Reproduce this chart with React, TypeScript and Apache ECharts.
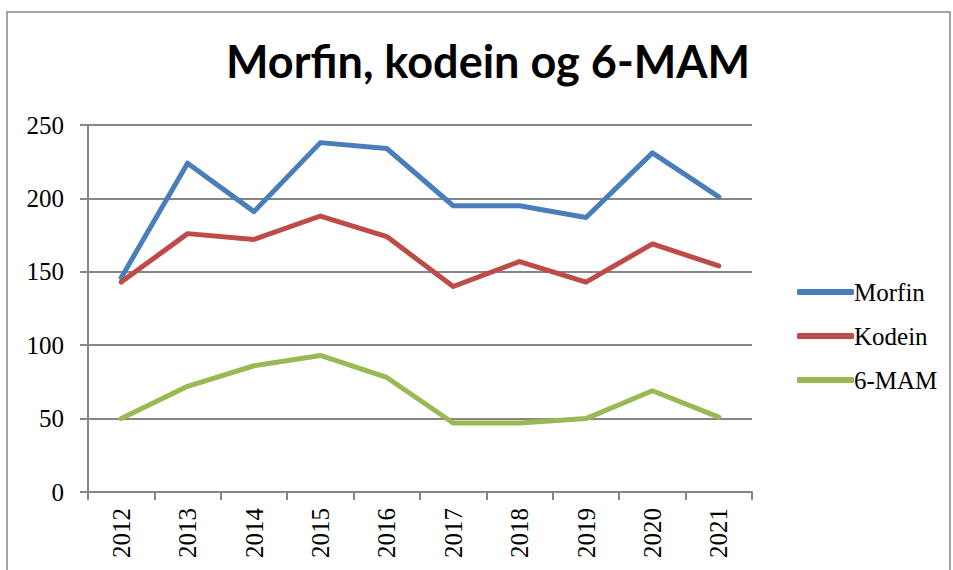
import React, { useEffect, useRef } from "react";
import * as echarts from "echarts";

const years = ["2012", "2013", "2014", "2015", "2016", "2017", "2018", "2019", "2020", "2021"];
const morfin = [146, 224, 191, 238, 234, 195, 195, 187, 231, 201];
const kodein = [143, 176, 172, 188, 174, 140, 157, 143, 169, 154];
const mam = [50, 72, 86, 93, 78, 47, 47, 50, 69, 51];
const yTicks = { min: 0, max: 250, interval: 50 };

export default function App() {
  const ref = useRef<HTMLDivElement>(null);
  useEffect(() => {
    if (!ref.current) return;
    const chart = echarts.init(ref.current, null, { renderer: "svg" });
    const gray = "#868686";
    const serif = "'Liberation Serif', 'Times New Roman', serif";
    const mk = (name: string, data: number[], color: string) => ({
      name,
      type: "line",
      data,
      symbol: "none",
      lineStyle: { color, width: 5, cap: "round", join: "round" },
      itemStyle: { color },
    });
    chart.setOption({
      animation: false,
      backgroundColor: "#ffffff",
      title: {
        text: "Morfin, kodein og 6-MAM",
        left: 483,
        textAlign: "center",
        top: 33,
        textStyle: { fontFamily: "Lato, 'Liberation Sans', sans-serif", fontWeight: "bold", fontSize: 45, color: "#000" },
      },
      graphic: [
        {
          type: "rect",
          shape: { x: 7, y: 12, width: 943, height: 580 },
          style: { fill: "none", stroke: gray, lineWidth: 1.5 },
          silent: true,
        },
      ],
      legend: {
        orient: "vertical",
        left: 792,
        top: 273,
        icon: "roundRect",
        itemWidth: 57,
        itemHeight: 6,
        itemGap: 16,
        textStyle: { fontFamily: serif, fontSize: 25, color: "#000", padding: [0, 0, 0, -5], lineHeight: 28 },
        data: ["Morfin", "Kodein", "6-MAM"],
      },
      grid: { left: 88, right: 201, top: 125, bottom: 78, containLabel: false },
      xAxis: {
        type: "category",
        data: years,
        boundaryGap: true,
        axisLine: { lineStyle: { color: gray, width: 2 } },
        axisTick: { show: true, length: 8, lineStyle: { color: gray, width: 2 }, alignWithLabel: false },
        axisLabel: { rotate: 90, fontFamily: serif, fontSize: 25, color: "#000", margin: 16 },
        splitLine: { show: false },
      },
      yAxis: {
        type: "value",
        min: yTicks.min,
        max: yTicks.max,
        interval: yTicks.interval,
        axisLine: { show: true, lineStyle: { color: gray, width: 2 } },
        axisTick: { show: true, length: 8, lineStyle: { color: gray, width: 2 } },
        axisLabel: { fontFamily: serif, fontSize: 25, color: "#000", margin: 24 },
        splitLine: { show: true, lineStyle: { color: gray, width: 2 } },
      },
      series: [mk("Morfin", morfin, "#4A7EBB"), mk("Kodein", kodein, "#BE4B48"), mk("6-MAM", mam, "#98B954")],
    });
    return () => chart.dispose();
  }, []);
  return <div ref={ref} style={{ position: "absolute", left: 0, top: 0, width: 953, height: 570 }} />;
}
